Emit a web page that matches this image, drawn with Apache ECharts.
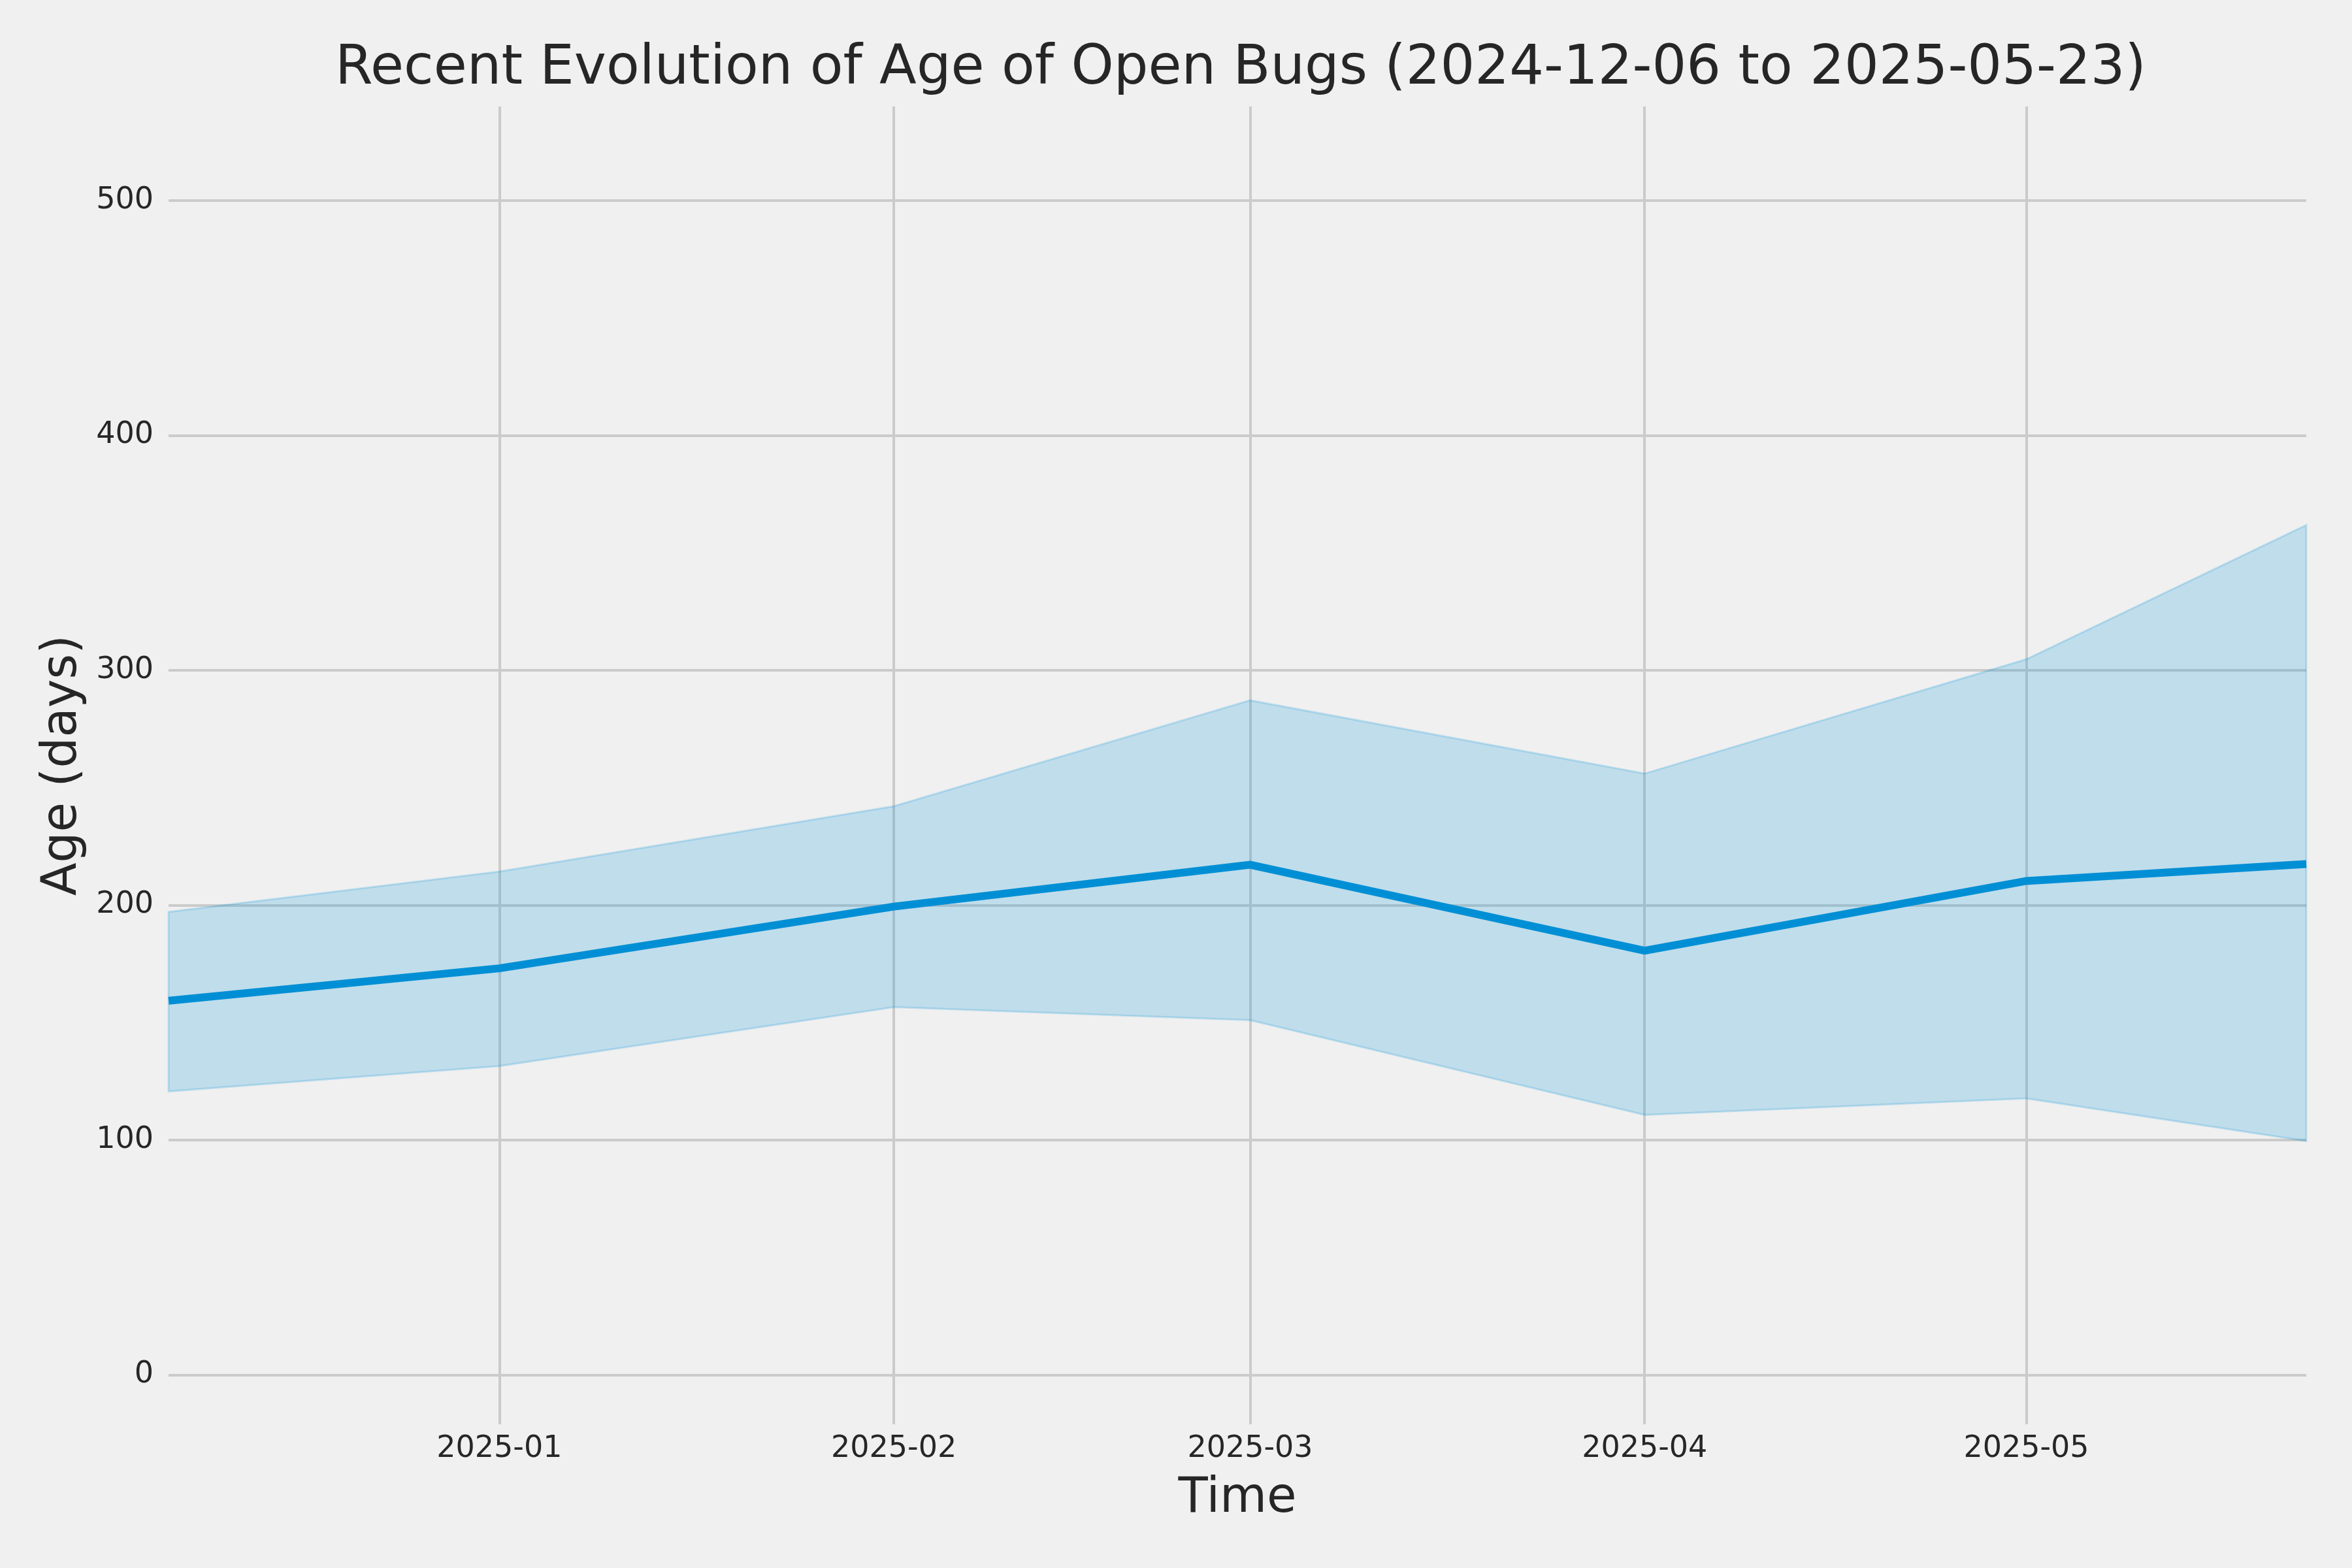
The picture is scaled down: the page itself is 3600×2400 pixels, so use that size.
<!DOCTYPE html>
<html>
<head>
<meta charset="utf-8">
<script src="https://cdn.jsdelivr.net/npm/echarts@6/dist/echarts.min.js"></script>
<style>
  html, body { margin: 0; padding: 0; background: #f0f0f0; }
  #chart { width: 3600px; height: 2400px; }
</style>
</head>
<body>
<div id="chart"></div>
<script>
// ---- data ----
const dates = ['2024-12-06', '2025-01-01', '2025-02-01', '2025-03-01', '2025-04-01', '2025-05-01', '2025-05-23'];
const medianAge = [159.3, 173.1, 199.4, 217.2, 180.6, 210.3, 217.5];
const upperAge = [197.1, 214.3, 242.1, 287.2, 256.0, 304.7, 361.8];
const lowerAge = [120.7, 131.5, 156.6, 151.0, 110.7, 117.7, 99.6];
const xTickDates = ['2025-01-01', '2025-02-01', '2025-03-01', '2025-04-01', '2025-05-01'];
const yTicks = [0, 100, 200, 300, 400, 500];
const titleText = 'Recent Evolution of Age of Open Bugs (2024-12-06 to 2025-05-23)';

function ts(s) { const p = s.split('-').map(Number); return Date.UTC(p[0], p[1] - 1, p[2]); }
function pad(n) { return n < 10 ? '0' + n : '' + n; }

const xs = dates.map(ts);
const xTickVals = xTickDates.map(ts);
const bandData = xs.map((t, i) => [t, lowerAge[i], upperAge[i]]);
const medianData = xs.map((t, i) => [t, medianAge[i]]);

const textColor = '#262626';
const gridColor = '#cbcbcb';
const fontFamily = 'DejaVu Sans';
const bandColor = 'rgba(0,143,213,0.2)';

function renderBand(params, api) {
  if (params.dataIndex !== 0) return null;
  const top = [], bottom = [];
  for (let i = 0; i < bandData.length; i++) {
    top.push(api.coord([bandData[i][0], bandData[i][2]]));
    bottom.push(api.coord([bandData[i][0], bandData[i][1]]));
  }
  const poly = top.concat(bottom.slice().reverse());
  return {
    type: 'polygon',
    shape: { points: poly },
    style: { fill: bandColor, stroke: bandColor, lineWidth: 3 },
    silent: true
  };
}

const chart = echarts.init(document.getElementById('chart'), null, { renderer: 'canvas' });
chart.setOption({
  backgroundColor: '#f0f0f0',
  animation: false,
  textStyle: { fontFamily: fontFamily },
  title: {
    text: titleText,
    left: 1894,
    top: 60,
    textAlign: 'center',
    textStyle: { fontFamily: fontFamily, fontSize: 83, fontWeight: 'normal', color: textColor }
  },
  grid: { left: 258, right: 70, top: 163, bottom: 220, containLabel: false, outerBoundsMode: 'none' },
  xAxis: {
    type: 'value',
    scale: true,
    min: ts('2024-12-06'),
    max: ts('2025-05-23'),
    name: 'Time',
    nameLocation: 'middle',
    nameGap: 78,
    nameTextStyle: { fontFamily: fontFamily, fontSize: 74, color: textColor },
    axisLine: { show: false },
    axisTick: { show: false, customValues: xTickVals },
    axisLabel: {
      customValues: xTickVals,
      margin: 15,
      fontSize: 46,
      color: textColor,
      fontFamily: fontFamily,
      formatter: function (v) { const d = new Date(v); return d.getUTCFullYear() + '-' + pad(d.getUTCMonth() + 1); }
    },
    splitLine: { show: true, lineStyle: { color: gridColor, width: 4 } }
  },
  yAxis: {
    type: 'value',
    min: -21,
    max: 540,
    name: 'Age (days)',
    nameLocation: 'middle',
    nameGap: 124,
    nameTextStyle: { fontFamily: fontFamily, fontSize: 74, color: textColor },
    axisLine: { show: false },
    axisTick: { show: false, customValues: yTicks },
    axisLabel: { customValues: yTicks, margin: 23, fontSize: 46, color: textColor, fontFamily: fontFamily },
    splitLine: { show: true, lineStyle: { color: gridColor, width: 4 } }
  },
  series: [
    {
      name: 'band',
      type: 'custom',
      renderItem: renderBand,
      data: bandData,
      encode: { x: 0, y: [1, 2] },
      silent: true,
      z: 2
    },
    {
      name: 'median',
      type: 'line',
      data: medianData,
      symbol: 'none',
      lineStyle: { color: '#008fd5', width: 12, cap: 'butt', join: 'miter' },
      z: 3
    }
  ]
});
</script>
</body>
</html>
